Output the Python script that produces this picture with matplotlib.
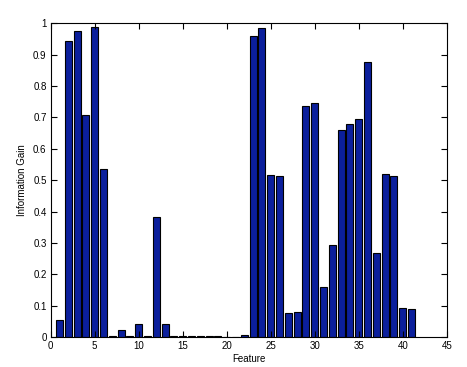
import numpy as np
import matplotlib
matplotlib.use('Agg')
import matplotlib.pyplot as plt

# information gain per feature
features = np.arange(1, 42)
gain = [0.055, 0.944, 0.976, 0.708, 0.988, 0.536, 0.003, 0.023, 0.004, 0.042,
        0.003, 0.383, 0.042, 0.003, 0.002, 0.002, 0.002, 0.002, 0.002, 0.0,
        0.0, 0.007, 0.960, 0.984, 0.517, 0.514, 0.076, 0.080, 0.736, 0.745,
        0.160, 0.294, 0.660, 0.679, 0.695, 0.876, 0.268, 0.520, 0.514, 0.093,
        0.090]

plt.rcParams['font.family'] = 'Liberation Sans'
plt.rcParams['font.size'] = 7

fig = plt.figure(figsize=(4.67, 3.67), dpi=100)
ax = fig.add_axes([0.1086, 0.0817, 0.848, 0.855])

ax.bar(features, gain, width=0.8, color='#0b1f9c', edgecolor='black', linewidth=0.8)

ax.set_xlim(0, 45)
ax.set_ylim(0, 1)
ax.set_xticks(np.arange(0, 46, 5))
ax.set_yticks(np.arange(0, 1.01, 0.1))
ax.set_yticklabels(['0', '0.1', '0.2', '0.3', '0.4', '0.5', '0.6', '0.7', '0.8', '0.9', '1'])
ax.tick_params(direction='in', top=True, right=True, length=4, width=0.8, pad=3)
for s in ax.spines.values():
    s.set_linewidth(0.8)

ax.set_xlabel('Feature', labelpad=2)
ax.set_ylabel('Information Gain', labelpad=4)

fig.savefig('out.png', dpi=100)
